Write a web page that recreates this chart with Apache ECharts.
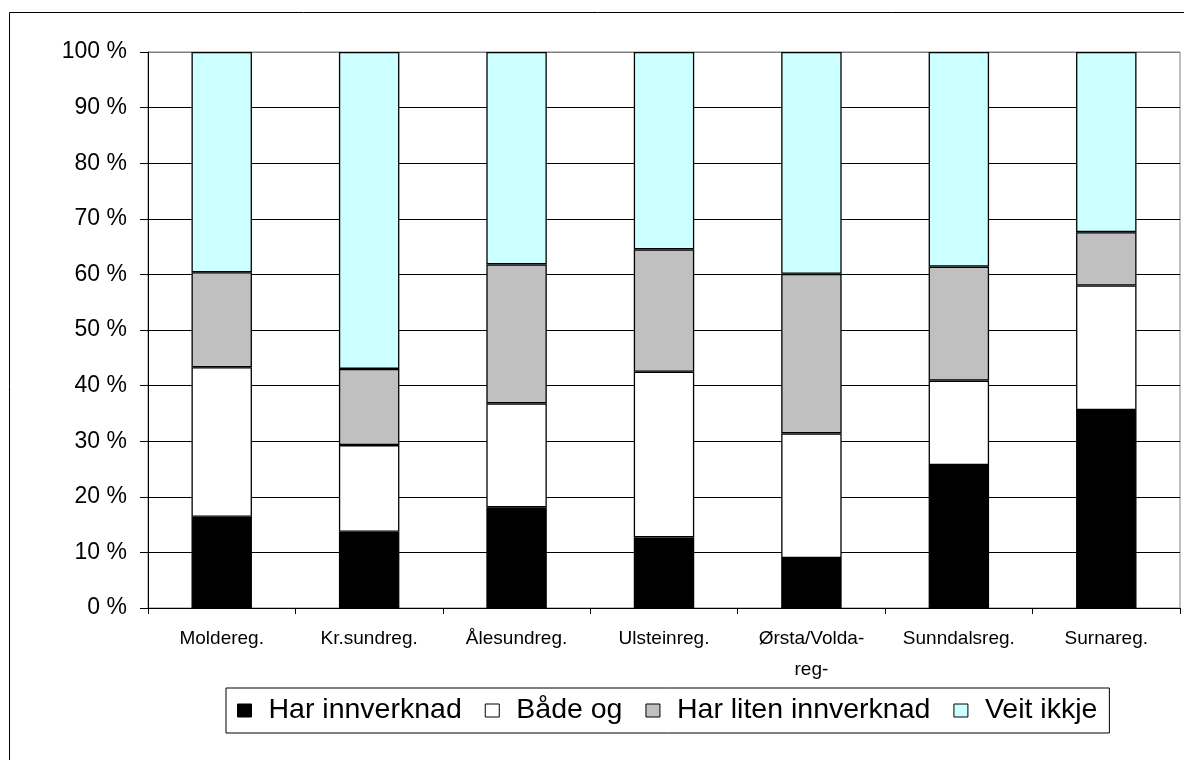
<!DOCTYPE html>
<html>
<head>
<meta charset="utf-8">
<script src="https://cdn.jsdelivr.net/npm/echarts@6/dist/echarts.min.js"></script>
<style>
html,body{margin:0;padding:0;background:#fff;}
#chart{width:1184px;height:760px;}
</style>
</head>
<body>
<div id="chart"></div>
<script>
var categories = ['Moldereg.', 'Kr.sundreg.', 'Ålesundreg.', 'Ulsteinreg.', 'Ørsta/Volda-\nreg-', 'Sunndalsreg.', 'Surnareg.'];
var harInnverknad = [16.4, 13.7, 18.1, 12.7, 9.0, 25.7, 35.6];
var badeOg = [26.9, 15.6, 18.7, 29.8, 22.4, 15.2, 22.4];
var harLitenInnverknad = [17.1, 13.7, 25.0, 22.0, 28.7, 20.5, 9.6];
var veitIkkje = [39.6, 57.0, 38.2, 35.5, 39.9, 38.6, 32.4];
var seriesNames = ['Har innverknad', 'Både og', 'Har liten innverknad', 'Veit ikkje'];
var yTicks = [0, 10, 20, 30, 40, 50, 60, 70, 80, 90, 100];

var chart = echarts.init(document.getElementById('chart'), null, {renderer: 'canvas'});
var font = '"Liberation Sans", Arial, sans-serif';
var colors = ['#000000', '#ffffff', '#c0c0c0', '#ccffff'];
var dataSets = [harInnverknad, badeOg, harLitenInnverknad, veitIkkje];

var splitColors = yTicks.map(function (v, i) { return i === yTicks.length - 1 ? '#808080' : '#000000'; });

chart.setOption({
  animation: false,
  backgroundColor: '#ffffff',
  textStyle: {fontFamily: font},
  graphic: [{
    type: 'rect',
    shape: {x: 9.5, y: 12.5, width: 1400, height: 900},
    style: {fill: 'none', stroke: '#000', lineWidth: 1},
    silent: true,
    z: -10
  }],
  grid: {
    left: 148, right: 4, top: 52, bottom: 152,
    show: true, borderColor: '#808080', borderWidth: 1,
    backgroundColor: '#ffffff'
  },
  legend: {
    left: 226, top: 688,
    itemWidth: 14, itemHeight: 13, itemGap: 23,
    icon: 'rect',
    padding: [8, 12, 8, 11],
    borderColor: '#000', borderWidth: 1,
    backgroundColor: '#fff',
    itemStyle: {borderColor: '#000', borderWidth: 1},
    textStyle: {fontFamily: font, fontSize: 28.5, color: '#000', padding: [0, 0, 0, 12]},
    data: seriesNames
  },
  xAxis: {
    type: 'category',
    data: categories,
    boundaryGap: true,
    axisLine: {show: true, lineStyle: {color: '#000', width: 1}},
    axisTick: {show: true, length: 6, inside: false, alignWithLabel: false, lineStyle: {color: '#000'}},
    axisLabel: {fontFamily: font, fontSize: 19, color: '#000', margin: 15, lineHeight: 31, interval: 0},
    splitLine: {show: false}
  },
  yAxis: {
    type: 'value',
    min: 0, max: 100, interval: 10,
    axisLine: {show: true, lineStyle: {color: '#000', width: 1}},
    axisTick: {show: true, length: 8, inside: false, lineStyle: {color: '#000'}},
    axisLabel: {fontFamily: font, fontSize: 23, color: '#000', margin: 21, formatter: '{value} %'},
    splitLine: {show: true, lineStyle: {color: splitColors, width: 1}}
  },
  series: seriesNames.map(function (name, i) {
    return {
      name: name,
      type: 'bar',
      stack: 'total',
      barWidth: '41%',
      data: dataSets[i],
      itemStyle: {color: colors[i], borderColor: '#000', borderWidth: 1.3},
      emphasis: {disabled: true}
    };
  })
});
</script>
</body>
</html>
